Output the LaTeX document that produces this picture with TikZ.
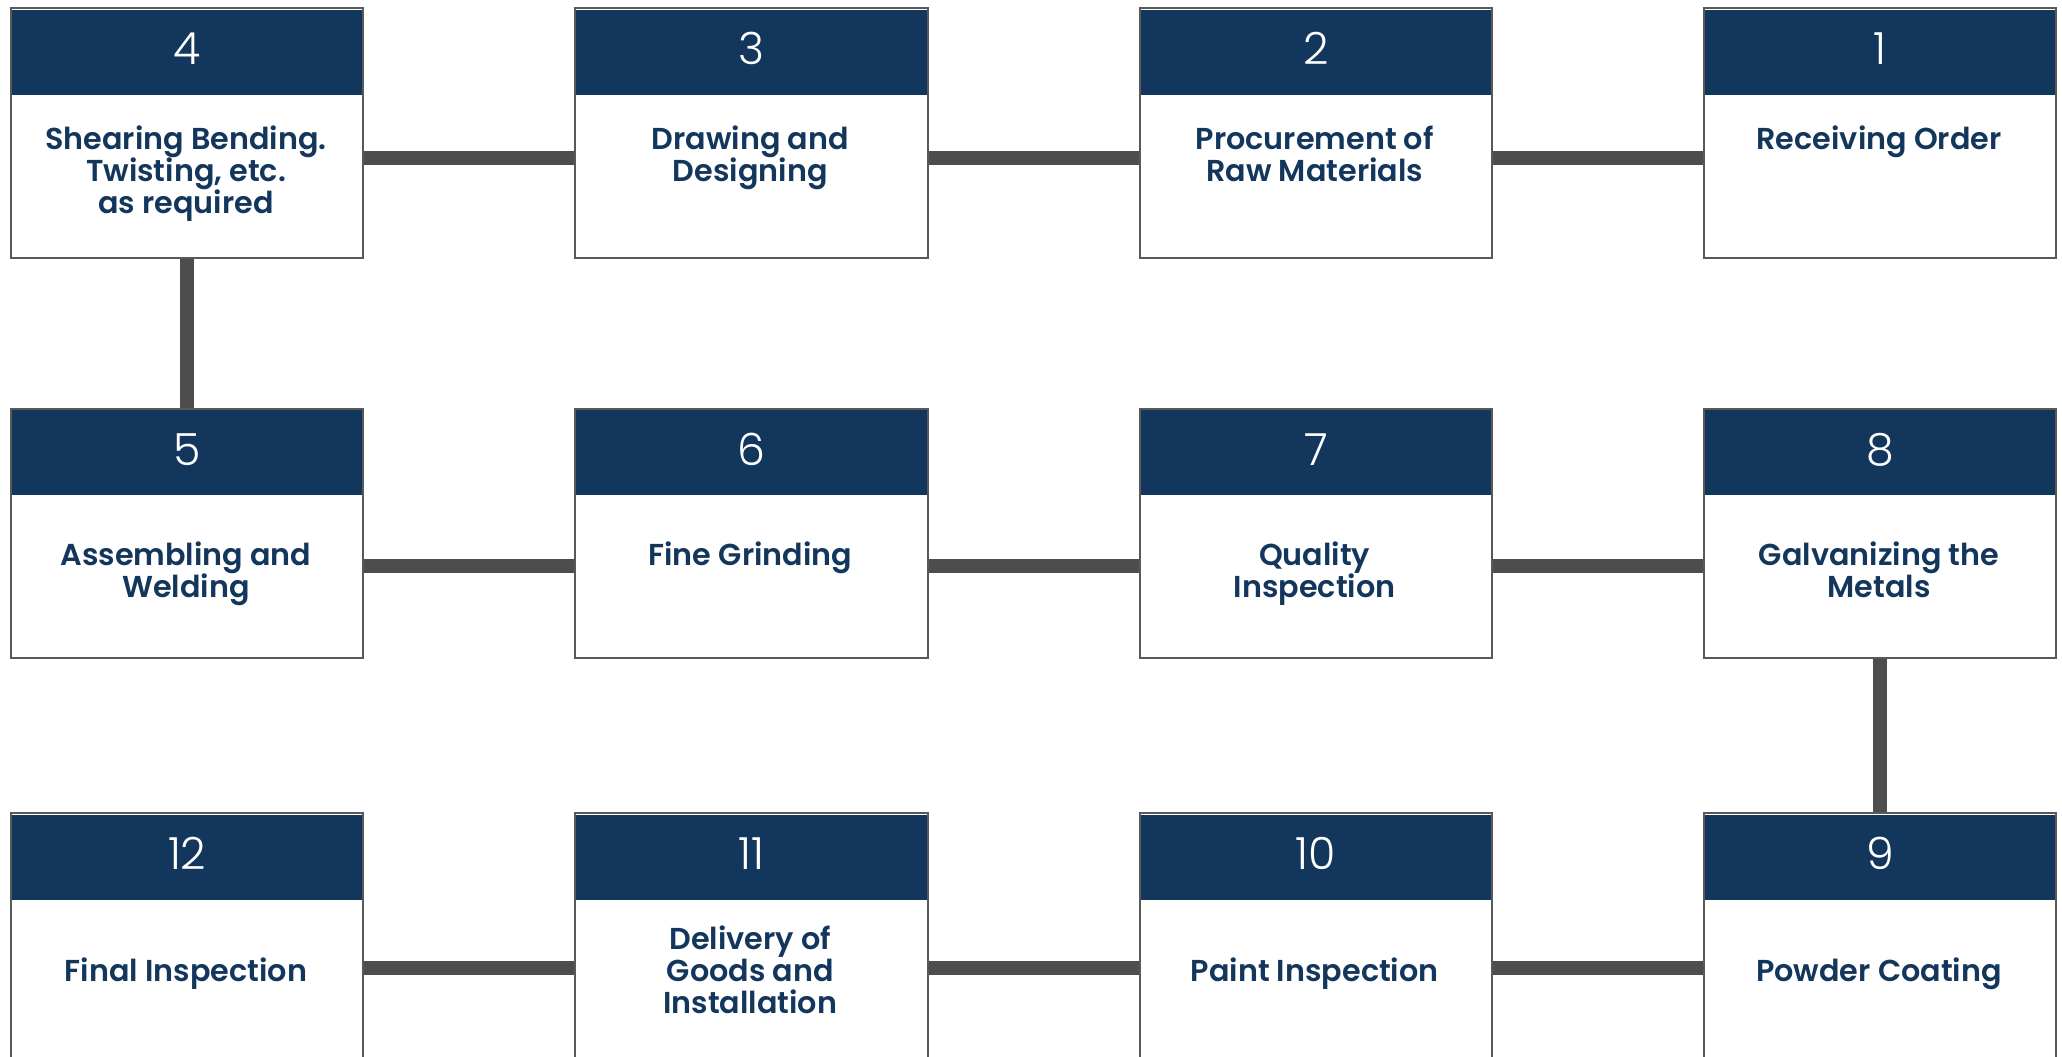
\documentclass[tikz,border=0pt]{standalone}
\usepackage{fontspec}
\setmainfont{Poppins}[BoldFont={* SemiBold}]
\newfontfamily\numfont{Poppins}[UprightFont={* Light}]
\definecolor{stepnavy}{HTML}{13365C}
\definecolor{boxgray}{HTML}{595959}
\definecolor{linkgray}{HTML}{4D4D4D}

\begin{document}
\begin{tikzpicture}[x=0.01cm, y=-0.01cm,
  card/.style={draw=boxgray, line width=0.6pt, fill=white, minimum width=3.52cm,
    minimum height=2.494cm, inner sep=0, anchor=north west},
  hdr/.style={fill=stepnavy, text=white, minimum width=3.52cm-0.6pt, minimum height=0.85cm,
    inner sep=0, anchor=north, text height=9pt, text depth=2pt,
    font=\numfont\fontsize{12.6}{14}\selectfont},
  body/.style={text=stepnavy, align=center, inner sep=0, anchor=north, yshift=10pt,
    font=\bfseries\fontsize{8.6}{9.16}\selectfont\setlength{\lineskiplimit}{-20pt}},
  link/.style={draw=linkgray, line width=0.14cm}]
  % Page
  \clip (0,0) rectangle (2062,1056);
  \fill[white] (0,0) rectangle (2062,1056);
  % Steps
  \foreach \n/\x/\y/\base/\txt in {
      4/10/7.3/141/{Shearing Bending.\\ Twisting, etc.\\ as required},
      3/574.3/7.3/141/{Drawing and\\ Designing},
      2/1138.7/7.3/141/{Procurement of\\ Raw Materials},
      1/1703/7.3/141/{Receiving Order},
      5/10/407.5/157/{Assembling and\\ Welding},
      6/574.3/407.5/157/{Fine Grinding},
      7/1138.7/407.5/157/{Quality\\ Inspection},
      8/1703/407.5/157/{Galvanizing the\\ Metals},
      12/10/811.7/169/{Final Inspection},
      11/574.3/811.7/137/{Delivery of\\ Goods and\\ Installation},
      10/1138.7/811.7/169/{Paint Inspection},
      9/1703/811.7/169/{Powder Coating}}{
    \node[card] (b\n) at (\x,\y) {};
    \node[hdr] (h\n) at ([yshift=-0.6pt]b\n.north) {\n};
    \node[body] (t\n) at (\x+176,\y+\base) {\rule{0pt}{10pt}\txt};
  }
  % Links
  \foreach \a/\c/\s in {4/3/-7.1pt, 3/2/-7.1pt, 2/1/-7.1pt,
      5/6/-9.3pt, 6/7/-9.3pt, 7/8/-9.3pt,
      12/11/-8.7pt, 11/10/-8.7pt, 10/9/-8.7pt}
    \draw[link] ([yshift=\s]b\a.east) -- ([yshift=\s]b\c.west);
  \draw[link] (b4.south) -- (b5.north);
  \draw[link] (b8.south) -- (b9.north);
\end{tikzpicture}
\end{document}
